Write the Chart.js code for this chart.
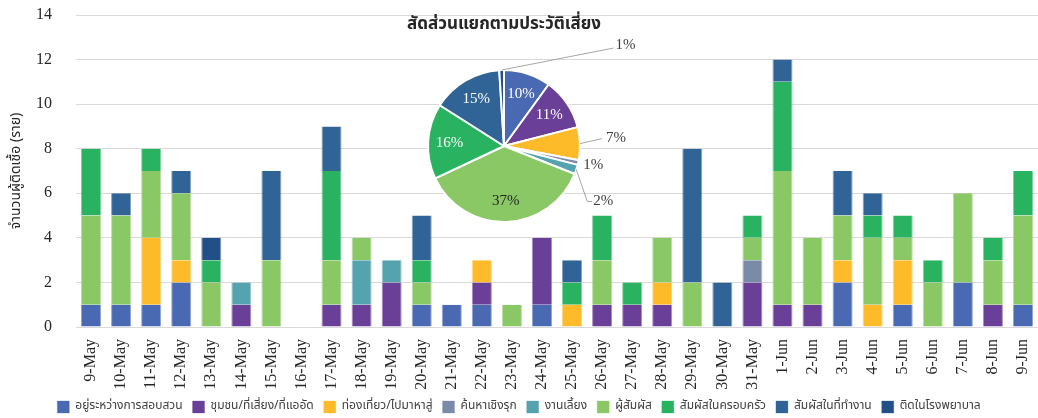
<!DOCTYPE html>
<html lang="th">
<head>
<meta charset="UTF-8">
<title>ผู้ติดเชื้อรายวันแยกตามประวัติเสี่ยง</title>
<script src="https://cdn.jsdelivr.net/npm/chart.js"></script>
<style>
  html, body { margin: 0; padding: 0; background: #fff; }
  #wrap { position: relative; width: 1038px; height: 418px; }
  #barBox { position: absolute; left: 0; top: 0; width: 1038px; height: 418px; }
  #pieBox { position: absolute; left: 360px; top: 0; width: 300px; height: 240px; }
</style>
</head>
<body>
<div id="wrap">
  <div id="barBox"><canvas id="barChart"></canvas></div>
  <div id="pieBox"><canvas id="pieChart"></canvas></div>
</div>

<script>
// วันที่
const dates = [
  '9-May', '10-May', '11-May', '12-May', '13-May', '14-May', '15-May', '16-May',
  '17-May', '18-May', '19-May', '20-May', '21-May', '22-May', '23-May', '24-May',
  '25-May', '26-May', '27-May', '28-May', '29-May', '30-May', '31-May',
  '1-Jun', '2-Jun', '3-Jun', '4-Jun', '5-Jun', '6-Jun', '7-Jun', '8-Jun', '9-Jun'
];

// จำนวนผู้ติดเชื้อรายวัน แยกตามประวัติเสี่ยง
const investigating = [1,1,1,2,0,0,0,0,0,0,0,1,1,1,0,1,0,0,0,0,0,0,0,0,0,2,0,1,0,2,0,1];
const community     = [0,0,0,0,0,1,0,0,1,1,2,0,0,1,0,3,0,1,1,1,0,0,2,1,1,0,0,0,0,0,1,0];
const travel        = [0,0,3,1,0,0,0,0,0,0,0,0,0,1,0,0,1,0,0,1,0,0,0,0,0,1,1,2,0,0,0,0];
const activeSearch  = [0,0,0,0,0,0,0,0,0,0,0,0,0,0,0,0,0,0,0,0,0,0,1,0,0,0,0,0,0,0,0,0];
const party         = [0,0,0,0,0,1,0,0,0,2,1,0,0,0,0,0,0,0,0,0,0,0,0,0,0,0,0,0,0,0,0,0];
const contact       = [4,4,3,3,2,0,3,0,2,1,0,1,0,0,1,0,0,2,0,2,2,0,1,6,3,2,3,1,2,4,2,4];
const family        = [3,0,1,0,1,0,0,0,4,0,0,1,0,0,0,0,1,2,1,0,0,0,1,4,0,0,1,1,1,0,1,2];
const workplace     = [0,1,0,1,0,0,4,0,2,0,0,2,0,0,0,0,1,0,0,0,6,2,0,1,0,2,1,0,0,0,0,0];
const hospital      = [0,0,0,0,1,0,0,0,0,0,0,0,0,0,0,0,0,0,0,0,0,0,0,0,0,0,0,0,0,0,0,0];

const seriesNames = [
  'อยู่ระหว่างการสอบสวน', 'ชุมชน/ที่เสี่ยง/ที่แออัด', 'ท่องเที่ยว/ไปมาหาสู่', 'ค้นหาเชิงรุก',
  'งานเลี้ยง', 'ผู้สัมผัส', 'สัมผัสในครอบครัว', 'สัมผัสในที่ทำงาน', 'ติดในโรงพยาบาล'
];
const seriesData = [investigating, community, travel, activeSearch, party, contact, family, workplace, hospital];

// สัดส่วน (%) ตามที่แสดงในวงกลม
const pieTitle = 'สัดส่วนแยกตามประวัติเสี่ยง';
const pieShares = [10, 11, 7, 1, 2, 37, 16, 15, 1];

const yTicks = [0, 2, 4, 6, 8, 10, 12, 14];
const yTitle = 'จำนวนผู้ติดเชื้อ (ราย)';

const colors = ['#4a69b3', '#6a3f98', '#fdbb2a', '#7a8ba8', '#55a3af', '#8ac865', '#29b360', '#316496', '#234f88'];

const thaiFont = "'Noto Sans Thai', Tahoma, 'DejaVu Sans', sans-serif";
const serifFont = "'Liberation Serif', 'Times New Roman', serif";

new Chart(document.getElementById('barChart'), {
  type: 'bar',
  data: {
    labels: dates,
    datasets: seriesNames.map((name, i) => ({
      label: name,
      data: seriesData[i].map(v => v === 0 ? null : v),
      backgroundColor: colors[i],
      borderColor: colors[i] + '99',
      borderWidth: {left: 1, right: 1, top: 0, bottom: 0},
      barPercentage: 0.667,
      categoryPercentage: 1
    }))
  },
  options: {
    responsive: true,
    maintainAspectRatio: false,
    animation: false,
    layout: { padding: { top: 15, right: 0, left: 0, bottom: 0 } },
    plugins: {
      tooltip: { enabled: false },
      legend: {
        position: 'bottom',
        maxHeight: 27,
        labels: {
          boxWidth: 12,
          boxHeight: 12,
          padding: 10,
          color: '#404040',
          font: { family: thaiFont, size: 12 }
        }
      }
    },
    scales: {
      x: {
        stacked: true,
        grid: { display: false, drawTicks: false },
        border: { display: false },
        ticks: {
          autoSkip: false,
          minRotation: 90,
          maxRotation: 90,
          padding: 12,
          color: '#262626',
          font: { family: serifFont, size: 16 }
        },
        afterFit: scale => {
          scale.height = 64;
          scale.paddingLeft = 0;
          scale.paddingRight = 0;
        }
      },
      y: {
        stacked: true,
        min: 0,
        max: 14,
        afterBuildTicks: scale => { scale.ticks = yTicks.map(v => ({ value: v })); },
        grid: { color: '#d9d9d9', lineWidth: 1, drawTicks: false },
        border: { display: false },
        ticks: {
          padding: 24,
          color: '#262626',
          font: { family: serifFont, size: 16 }
        },
        title: {
          display: true,
          text: yTitle,
          color: '#262626',
          padding: { top: 9, bottom: 0 },
          font: { family: thaiFont, size: 14 }
        },
        afterFit: scale => {
          scale.width = 76;
          scale.paddingTop = 0;
          scale.paddingBottom = 0;
        }
      }
    }
  }
});

// ตำแหน่งป้ายด้านนอกของวงกลม (เส้นโยงจากขอบชิ้น)
const callouts = {
  2: { line: [[22, -5]], text: [26, -6] },
  3: { line: [], text: [5, 2] },
  4: { line: [[11, 32], [16, 32]], text: [17, 32] },
  8: { line: [[112, -22]], text: [114, -25] }
};

const pieLabels = {
  id: 'pieLabels',
  afterDraw(chart) {
    const ctx = chart.ctx;
    const area = chart.chartArea;
    ctx.save();
    ctx.fillStyle = '#262626';
    ctx.font = 'bold 17px ' + thaiFont;
    ctx.textAlign = 'center';
    ctx.textBaseline = 'middle';
    ctx.fillText(pieTitle, (area.left + area.right) / 2, 26);

    ctx.font = '15px ' + serifFont;
    chart.getDatasetMeta(0).data.forEach((arc, i) => {
      const mid = (arc.startAngle + arc.endAngle) / 2;
      const text = pieShares[i] + '%';
      const c = callouts[i];
      if (!c) {
        const r = arc.outerRadius * 0.72;
        ctx.fillStyle = i === 5 ? '#262626' : '#ffffff';
        ctx.textAlign = 'center';
        ctx.fillText(text, arc.x + Math.cos(mid) * r, arc.y + Math.sin(mid) * r);
        return;
      }
      const ax = arc.x + Math.cos(mid) * arc.outerRadius;
      const ay = arc.y + Math.sin(mid) * arc.outerRadius;
      if (c.line.length) {
        ctx.strokeStyle = '#a6a6a6';
        ctx.lineWidth = 1;
        ctx.beginPath();
        ctx.moveTo(ax, ay);
        c.line.forEach(p => ctx.lineTo(ax + p[0], ay + p[1]));
        ctx.stroke();
      }
      ctx.fillStyle = '#404040';
      ctx.textAlign = 'left';
      ctx.fillText(text, ax + c.text[0], ay + c.text[1]);
    });
    ctx.restore();
  }
};

new Chart(document.getElementById('pieChart'), {
  type: 'pie',
  data: {
    labels: seriesNames,
    datasets: [{
      data: pieShares,
      backgroundColor: colors,
      borderColor: '#ffffff',
      borderWidth: 2
    }]
  },
  options: {
    responsive: true,
    maintainAspectRatio: false,
    animation: false,
    layout: { padding: { left: 67, right: 79, top: 69, bottom: 17 } },
    plugins: {
      legend: { display: false },
      tooltip: { enabled: false }
    }
  },
  plugins: [pieLabels]
});
</script>
</body>
</html>
